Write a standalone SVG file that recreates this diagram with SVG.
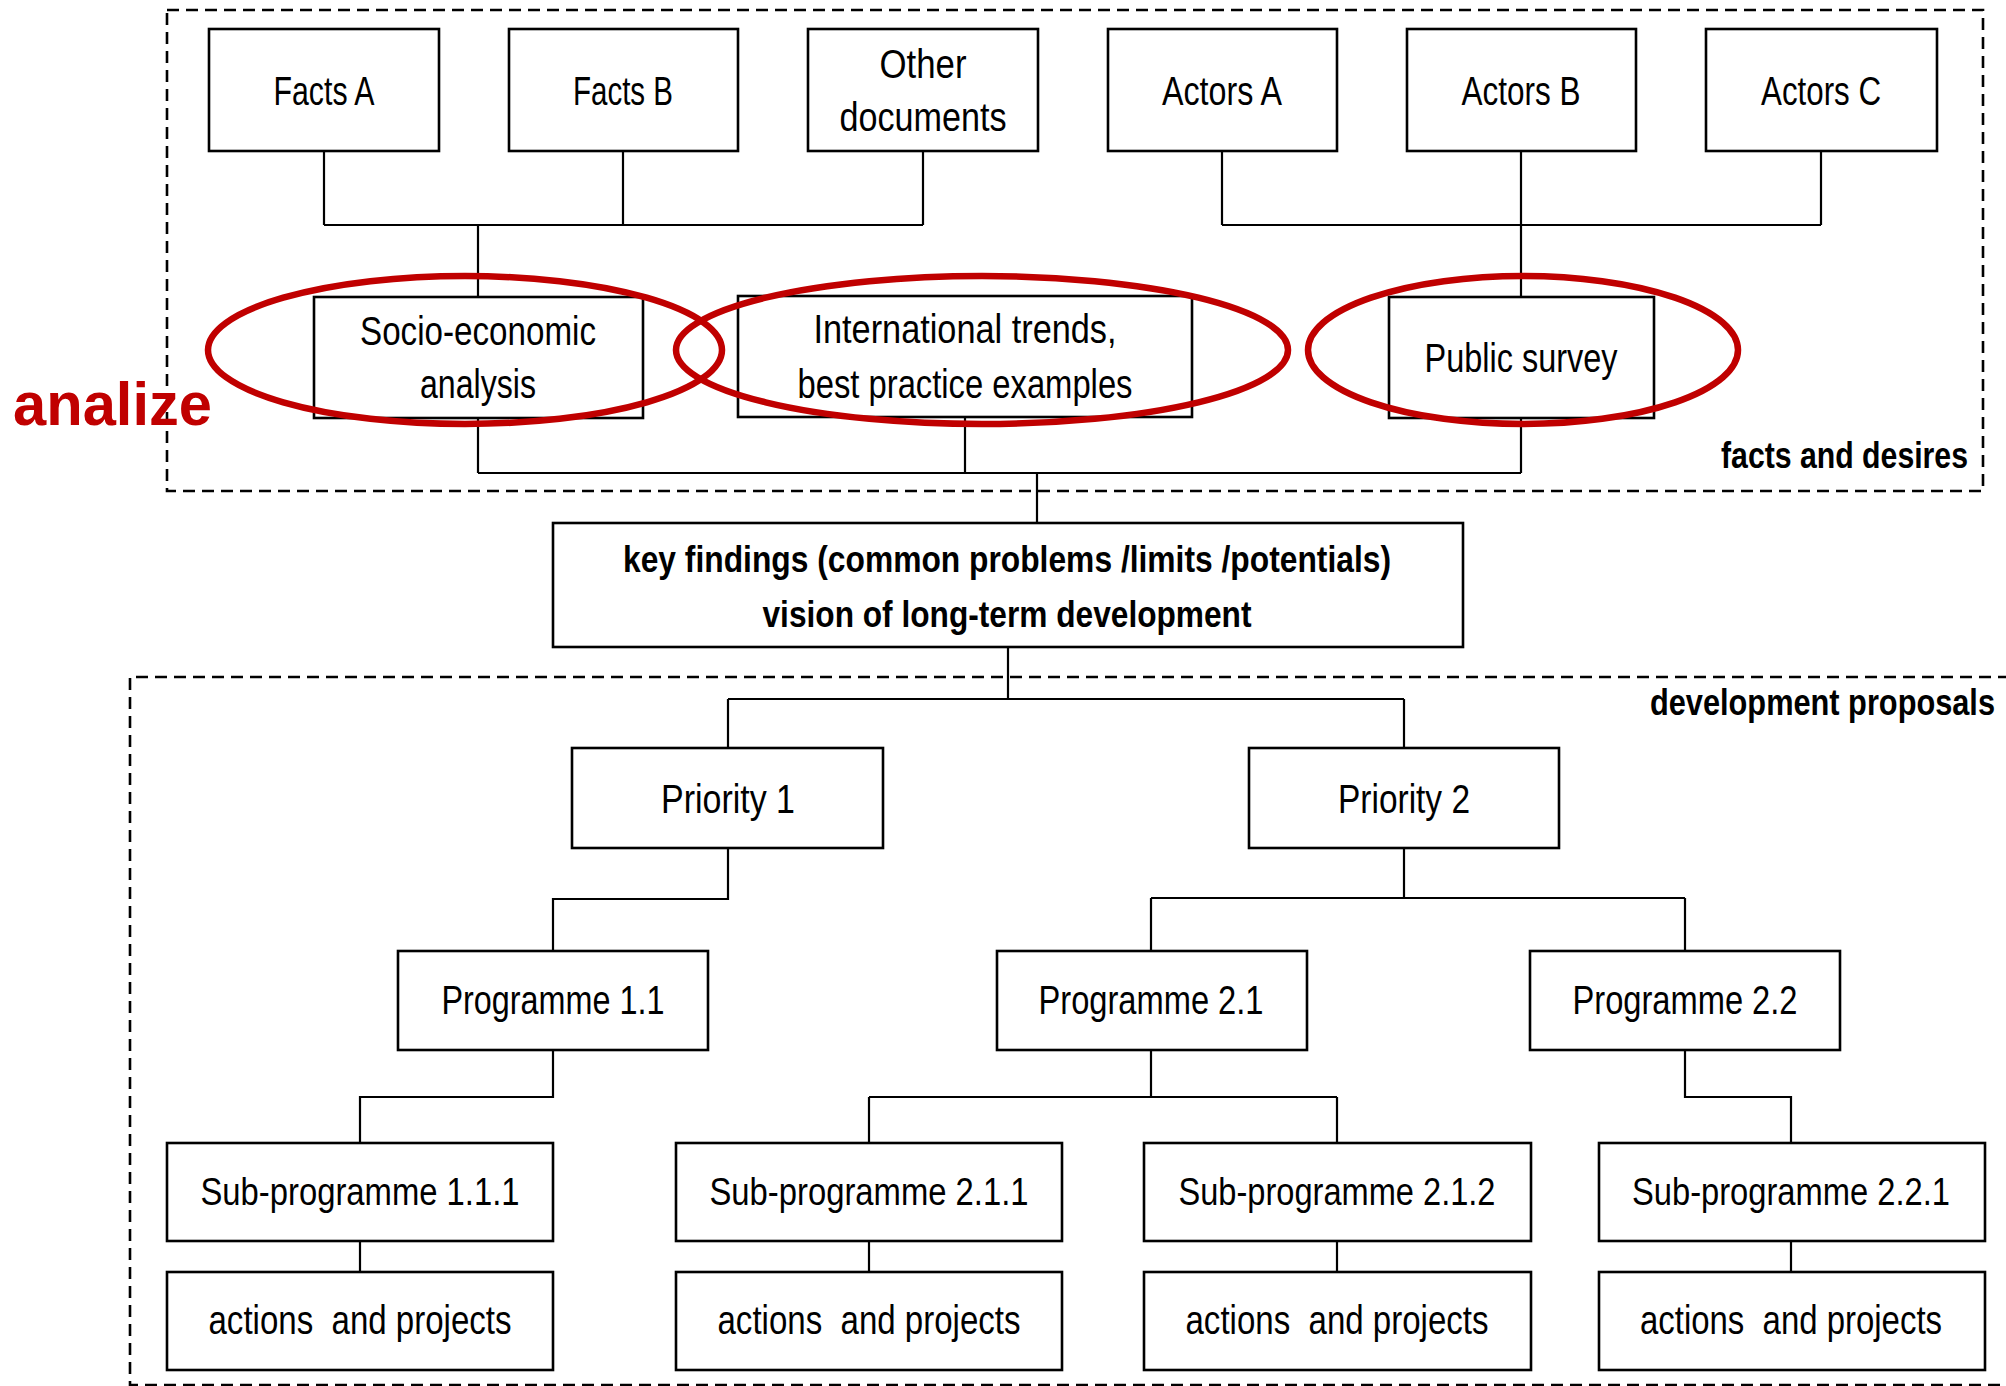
<svg xmlns="http://www.w3.org/2000/svg" width="2006" height="1386" viewBox="0 0 2006 1386">
<style>
  .box { fill: #fff; stroke: #000; stroke-width: 2.6; }
  .conn { fill: none; stroke: #000; stroke-width: 2.2; }
  .dash { fill: none; stroke: #000; stroke-width: 2.6; stroke-dasharray: 12 7; }
  .ring { fill: none; stroke: #C00000; stroke-width: 6.5; }
  .t { font-family: "Liberation Sans", Arial, sans-serif; font-size: 40px; fill: #000; text-anchor: middle; white-space: pre; }
  .s { font-size: 38px; }
  .b { font-family: "Liberation Sans", Arial, sans-serif; font-size: 37px; font-weight: bold; fill: #000; white-space: pre; }
  .red { font-family: "Liberation Sans", Arial, sans-serif; font-size: 62px; font-weight: bold; fill: #C00000; }
</style>
<rect width="2006" height="1386" fill="#fff"/>

<g id="regions">
  <rect class="dash" x="167" y="10" width="1816" height="481"/>
  <path class="dash" d="M2010 677 H130 V1385 H2010"/>
  <text class="b" x="1968" y="468" text-anchor="end" textLength="247" lengthAdjust="spacingAndGlyphs">facts and desires</text>
  <text class="b" x="1995" y="715" text-anchor="end" textLength="345" lengthAdjust="spacingAndGlyphs">development proposals</text>
</g>

<g id="connectors">
  <path class="conn" d="M324 151 V225 M623 151 V225 M923 151 V225 M324 225 H923 M478 225 V297"/>
  <path class="conn" d="M1222 151 V225 M1521 151 V297 M1821 151 V225 M1222 225 H1821"/>
  <path class="conn" d="M478 418 V473 M965 417 V473 M1521 418 V473 M478 473 H1521 M1037 473 V523"/>
  <path class="conn" d="M1008 647 V699 M728 699 H1404 M728 699 V748 M1404 699 V748"/>
  <path class="conn" d="M728 848 V899 H553 V951"/>
  <path class="conn" d="M1404 848 V898 M1151 898 H1685 M1151 898 V951 M1685 898 V951"/>
  <path class="conn" d="M553 1050 V1097 H360 V1143"/>
  <path class="conn" d="M1151 1050 V1097 M869 1097 H1337 M869 1097 V1143 M1337 1097 V1143"/>
  <path class="conn" d="M1685 1050 V1097 H1791 V1143"/>
  <path class="conn" d="M360 1241 V1272 M869 1241 V1272 M1337 1241 V1272 M1791 1241 V1272"/>
</g>

<g id="facts-a"><rect class="box" x="209" y="29" width="230" height="122"/><text class="t" x="324" y="105" textLength="101" lengthAdjust="spacingAndGlyphs">Facts A</text></g>
<g id="facts-b"><rect class="box" x="509" y="29" width="229" height="122"/><text class="t" x="623" y="105" textLength="100" lengthAdjust="spacingAndGlyphs">Facts B</text></g>
<g id="other-documents"><rect class="box" x="808" y="29" width="230" height="122"/><text class="t" x="923" y="78" textLength="87" lengthAdjust="spacingAndGlyphs">Other</text><text class="t" x="923" y="131" textLength="167" lengthAdjust="spacingAndGlyphs">documents</text></g>
<g id="actors-a"><rect class="box" x="1108" y="29" width="229" height="122"/><text class="t" x="1222" y="105" textLength="120" lengthAdjust="spacingAndGlyphs">Actors A</text></g>
<g id="actors-b"><rect class="box" x="1407" y="29" width="229" height="122"/><text class="t" x="1521" y="105" textLength="119" lengthAdjust="spacingAndGlyphs">Actors B</text></g>
<g id="actors-c"><rect class="box" x="1706" y="29" width="231" height="122"/><text class="t" x="1821" y="105" textLength="120" lengthAdjust="spacingAndGlyphs">Actors C</text></g>

<g id="socio-economic"><rect class="box" x="314" y="297" width="329" height="121"/><text class="t" x="478" y="345" textLength="236" lengthAdjust="spacingAndGlyphs">Socio-economic</text><text class="t" x="478" y="398" textLength="116" lengthAdjust="spacingAndGlyphs">analysis</text></g>
<g id="international"><rect class="box" x="738" y="296" width="454" height="121"/><text class="t" x="965" y="343" textLength="303" lengthAdjust="spacingAndGlyphs">International trends,</text><text class="t" x="965" y="398" textLength="335" lengthAdjust="spacingAndGlyphs">best practice examples</text></g>
<g id="public-survey"><rect class="box" x="1389" y="297" width="265" height="121"/><text class="t" x="1521" y="372" textLength="193" lengthAdjust="spacingAndGlyphs">Public survey</text></g>

<g id="key-findings"><rect class="box" x="553" y="523" width="910" height="124"/><text class="b" x="1007" y="572" text-anchor="middle" textLength="768" lengthAdjust="spacingAndGlyphs">key findings (common problems /limits /potentials)</text><text class="b" x="1007" y="627" text-anchor="middle" textLength="489" lengthAdjust="spacingAndGlyphs">vision of long-term development</text></g>

<g id="priority-1"><rect class="box" x="572" y="748" width="311" height="100"/><text class="t" x="728" y="813" textLength="134" lengthAdjust="spacingAndGlyphs">Priority 1</text></g>
<g id="priority-2"><rect class="box" x="1249" y="748" width="310" height="100"/><text class="t" x="1404" y="813" textLength="132" lengthAdjust="spacingAndGlyphs">Priority 2</text></g>

<g id="programme-1-1"><rect class="box" x="398" y="951" width="310" height="99"/><text class="t" x="553" y="1014" textLength="223" lengthAdjust="spacingAndGlyphs">Programme 1.1</text></g>
<g id="programme-2-1"><rect class="box" x="997" y="951" width="310" height="99"/><text class="t" x="1151" y="1014" textLength="225" lengthAdjust="spacingAndGlyphs">Programme 2.1</text></g>
<g id="programme-2-2"><rect class="box" x="1530" y="951" width="310" height="99"/><text class="t" x="1685" y="1014" textLength="225" lengthAdjust="spacingAndGlyphs">Programme 2.2</text></g>

<g id="sub-1-1-1"><rect class="box" x="167" y="1143" width="386" height="98"/><text class="t s" x="360" y="1205" textLength="319" lengthAdjust="spacingAndGlyphs">Sub-programme 1.1.1</text></g>
<g id="sub-2-1-1"><rect class="box" x="676" y="1143" width="386" height="98"/><text class="t s" x="869" y="1205" textLength="319" lengthAdjust="spacingAndGlyphs">Sub-programme 2.1.1</text></g>
<g id="sub-2-1-2"><rect class="box" x="1144" y="1143" width="387" height="98"/><text class="t s" x="1337" y="1205" textLength="317" lengthAdjust="spacingAndGlyphs">Sub-programme 2.1.2</text></g>
<g id="sub-2-2-1"><rect class="box" x="1599" y="1143" width="386" height="98"/><text class="t s" x="1791" y="1205" textLength="318" lengthAdjust="spacingAndGlyphs">Sub-programme 2.2.1</text></g>

<g id="actions-1-1-1"><rect class="box" x="167" y="1272" width="386" height="98"/><text class="t" x="360" y="1334" textLength="303" lengthAdjust="spacingAndGlyphs">actions  and projects</text></g>
<g id="actions-2-1-1"><rect class="box" x="676" y="1272" width="386" height="98"/><text class="t" x="869" y="1334" textLength="303" lengthAdjust="spacingAndGlyphs">actions  and projects</text></g>
<g id="actions-2-1-2"><rect class="box" x="1144" y="1272" width="387" height="98"/><text class="t" x="1337" y="1334" textLength="303" lengthAdjust="spacingAndGlyphs">actions  and projects</text></g>
<g id="actions-2-2-1"><rect class="box" x="1599" y="1272" width="386" height="98"/><text class="t" x="1791" y="1334" textLength="302" lengthAdjust="spacingAndGlyphs">actions  and projects</text></g>

<g id="analysis-highlight">
  <ellipse class="ring" cx="465" cy="350" rx="257" ry="74"/>
  <ellipse class="ring" cx="982" cy="350" rx="306" ry="74"/>
  <ellipse class="ring" cx="1523" cy="350" rx="215" ry="74"/>
  <text class="red" x="13" y="425" textLength="199" lengthAdjust="spacingAndGlyphs">analize</text>
</g>
</svg>
